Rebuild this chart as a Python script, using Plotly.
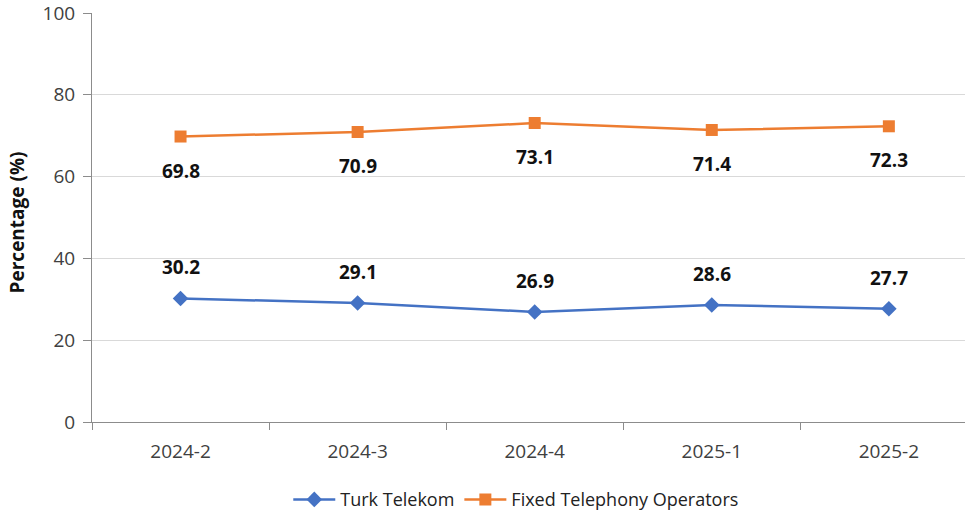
import plotly.graph_objects as go

categories = ["2024-2", "2024-3", "2024-4", "2025-1", "2025-2"]
turk_telekom = [30.2, 29.1, 26.9, 28.6, 27.7]
fixed_ops = [69.8, 70.9, 73.1, 71.4, 72.3]
y_ticks = [0, 20, 40, 60, 80, 100]
y_title = "Percentage (%)"

BLUE = "#4472C4"
ORANGE = "#ED7D31"
FONT = "Open Sans"

fig = go.Figure()
fig.add_trace(go.Scatter(
    x=categories, y=turk_telekom, name="Turk Telekom", mode="lines+markers",
    line=dict(color=BLUE, width=2.5),
    marker=dict(symbol="diamond", size=12, color=BLUE),
))
fig.add_trace(go.Scatter(
    x=categories, y=fixed_ops, name="Fixed Telephony Operators", mode="lines+markers",
    line=dict(color=ORANGE, width=2.5),
    marker=dict(symbol="square", size=12, color=ORANGE),
))

annotations = []
for c, v in zip(categories, turk_telekom):
    annotations.append(dict(x=c, y=v, text=f"{v:.1f}", showarrow=False, yshift=31,
                            font=dict(family=FONT, size=19, color="#111111", weight="bold")))
for c, v in zip(categories, fixed_ops):
    annotations.append(dict(x=c, y=v, text=f"{v:.1f}", showarrow=False, yshift=-34,
                            font=dict(family=FONT, size=19, color="#111111", weight="bold")))
annotations.append(dict(xref="paper", yref="paper", x=-0.0859, y=0.488, xanchor="center",
                        yanchor="middle", textangle=-90, text=y_title, showarrow=False,
                        font=dict(family=FONT, size=19, color="#111111", weight="bold")))

fig.update_layout(
    width=965, height=518,
    margin=dict(l=92, r=0, t=13, b=96, autoexpand=False),
    plot_bgcolor="white", paper_bgcolor="white",
    font=dict(family=FONT, color="#333333"),
    annotations=annotations,
    showlegend=True,
    legend=dict(orientation="h", x=0.486, xanchor="center", y=-0.19, yanchor="middle",
                font=dict(family=FONT, size=18, color="#222222"), itemwidth=42,
                traceorder="normal"),
    xaxis=dict(
        type="category", range=[-0.5, 4.43], automargin=False,
        showline=True, linecolor="#8c8c8c", linewidth=1,
        ticks="outside", tickson="boundaries", ticklen=7, tickcolor="#8c8c8c",
        tickfont=dict(family=FONT, size=19, color="#404040"),
        showgrid=False, zeroline=False, ticklabeloverflow="allow",
        ticklabelstandoff=12,
    ),
    yaxis=dict(
        range=[0, 100], tickvals=y_ticks, automargin=False,
        showline=True, linecolor="#8c8c8c", linewidth=1,
        ticks="outside", ticklen=8, tickcolor="#8c8c8c",
        tickfont=dict(family=FONT, size=19, color="#404040"),
        showgrid=True, gridcolor="#d9d9d9", gridwidth=1, zeroline=False,
        ticklabeloverflow="allow", ticklabelstandoff=4,
    ),
)

fig.write_html("out.html", config={"displayModeBar": False},
               post_script="document.body.style.margin='0';")
